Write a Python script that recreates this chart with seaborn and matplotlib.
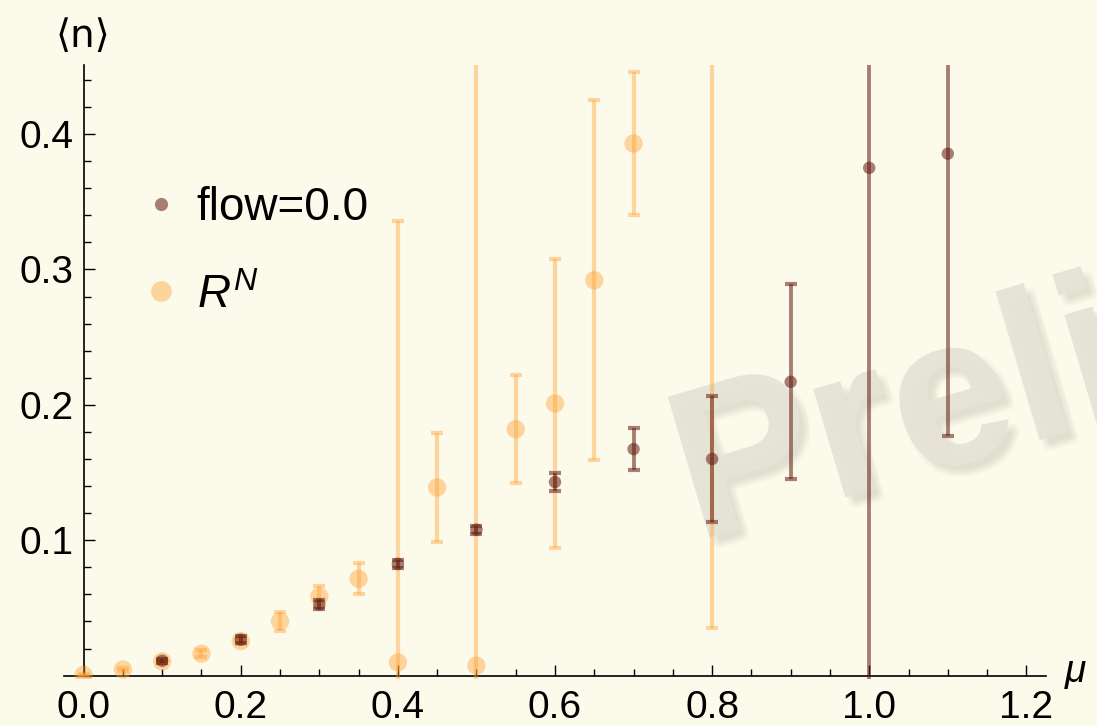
import numpy as np
import pandas as pd
import matplotlib
matplotlib.use("Agg")
import matplotlib.pyplot as plt
from matplotlib.lines import Line2D
from matplotlib.ticker import MultipleLocator, FormatStrFormatter
import seaborn as sns

# ---------------- data ----------------
mu_rn = [0.0, 0.05, 0.1, 0.15, 0.2, 0.25, 0.3, 0.35, 0.4, 0.45, 0.5, 0.55, 0.6, 0.65, 0.7, 0.8]
n_rn = [0.0005, 0.0045, 0.0105, 0.0162, 0.0255, 0.040, 0.0585, 0.0715, 0.0098, 0.139, 0.0074,
        0.182, 0.201, 0.292, 0.393, 0.50]
err_rn = [0.0005, 0.001, 0.0012, 0.0025, 0.002, 0.0072, 0.0075, 0.0115, 0.326, 0.040, 0.50,
          0.040, 0.107, 0.133, 0.053, 0.465]

mu_flow = [0.1, 0.2, 0.3, 0.4, 0.5, 0.6, 0.7, 0.8, 0.9, 1.0, 1.1]
n_flow = [0.011, 0.0265, 0.0525, 0.0825, 0.1078, 0.143, 0.1673, 0.160, 0.217, 0.375, 0.3855]
err_flow = [0.0015, 0.0025, 0.003, 0.003, 0.003, 0.007, 0.0153, 0.0467, 0.072, 0.45, 0.2085]

label_flow = "flow=0.0"
label_rn = r"$R^N$"
x_ticks = [0.0, 0.2, 0.4, 0.6, 0.8, 1.0, 1.2]
y_ticks = [0.1, 0.2, 0.3, 0.4]

# ---------------- style ----------------
bg = "#FCFAEA"
c_flow = "#621A10"
a_flow = 0.55
c_rn = "#FFA032"
a_rn = 0.42

sns.set_theme(style="white")
plt.rcParams["font.family"] = ["Liberation Sans", "DejaVu Sans"]
plt.rcParams["text.color"] = "black"
plt.rcParams["mathtext.fontset"] = "custom"
plt.rcParams["mathtext.it"] = "Liberation Sans:italic"
plt.rcParams["mathtext.rm"] = "Liberation Sans"

W, H = 1097, 726
fig = plt.figure(figsize=(W / 100, H / 100), dpi=100, facecolor=bg)
ax = fig.add_axes([64 / W, 1 - 679 / H, (1046 - 64) / W, (679 - 65) / H])
ax.set_facecolor(bg)

# watermark with a soft shadow
wx, wy = 695 / W, 1 - 538 / H
wm_kw = dict(transform=fig.transFigure, rotation=16.5, rotation_mode="anchor",
             ha="left", va="baseline", fontsize=154, fontweight="bold", clip_on=False)
for dx, dy in [(5, -5), (7, -7), (9, -9), (11, -11), (4, -9), (9, -4), (6, -11), (11, -6)]:
    ax.text(wx + dx / W, wy + dy / H, "Preliminary", color="#9E9C8C", alpha=0.04,
            zorder=0.4, **wm_kw)
ax.text(wx, wy, "Preliminary", color="#E5E4D7", zorder=0.5, **wm_kw)

df_rn = pd.DataFrame({"mu": mu_rn, "n": n_rn, "err": err_rn})
df_flow = pd.DataFrame({"mu": mu_flow, "n": n_flow, "err": err_flow})

# error bars and points
ax.errorbar(df_rn["mu"], df_rn["n"], yerr=df_rn["err"], fmt="none", ecolor=c_rn,
            alpha=a_rn, elinewidth=3.0, capsize=4.5, capthick=3.0, zorder=2)
sns.scatterplot(data=df_rn, x="mu", y="n", ax=ax, color=c_rn, alpha=a_rn, s=175,
                edgecolor="none", linewidth=0, legend=False, zorder=3)

ax.errorbar(df_flow["mu"], df_flow["n"], yerr=df_flow["err"], fmt="none", ecolor=c_flow,
            alpha=a_flow, elinewidth=2.8, capsize=4.5, capthick=3.0, zorder=4)
sns.scatterplot(data=df_flow, x="mu", y="n", ax=ax, color=c_flow, alpha=a_flow, s=80,
                edgecolor="none", linewidth=0, legend=False, zorder=5)

# axes
ax.set_xlim(-0.025, 1.225)
ax.set_ylim(-0.0025, 0.451)
ax.set_xlabel("")
ax.set_ylabel("")
for s in ["top", "right"]:
    ax.spines[s].set_visible(False)
ax.spines["left"].set_position(("data", 0))
ax.spines["bottom"].set_position(("data", 0))
ax.spines["left"].set_bounds(0, 0.451)
for s in ["left", "bottom"]:
    ax.spines[s].set_color("black")
    ax.spines[s].set_linewidth(1.2)
    ax.spines[s].set_zorder(1)

ax.set_xticks(x_ticks)
ax.set_yticks(y_ticks)
ax.xaxis.set_major_formatter(FormatStrFormatter("%.1f"))
ax.yaxis.set_major_formatter(FormatStrFormatter("%.1f"))
ax.xaxis.set_minor_locator(MultipleLocator(0.05))
ax.yaxis.set_minor_locator(MultipleLocator(0.02))
ax.tick_params(which="both", direction="in", color="black", width=1.0,
               bottom=True, left=True, top=False, right=False)
ax.tick_params(which="major", length=8, labelsize=28, labelcolor="black")
ax.tick_params(which="minor", length=5)
ax.tick_params(axis="x", which="major", pad=10)
ax.tick_params(axis="y", which="major", pad=7)

fig.text(83 / W, 1 - 36 / H, "⟨n⟩", ha="center", va="center", fontsize=28,
         family=["DejaVu Sans"], color="black")
fig.text(1075 / W, 1 - 672 / H, "μ", ha="center", va="center", fontsize=28,
         style="italic", color="black")

handles = [
    Line2D([], [], ls="none", marker="o", markersize=9.5, color=c_flow, alpha=a_flow,
           markeredgewidth=0),
    Line2D([], [], ls="none", marker="o", markersize=15, color=c_rn, alpha=a_rn,
           markeredgewidth=0),
]
leg = ax.legend(handles, [label_flow, label_rn], loc="upper left",
                bbox_to_anchor=(138 / W, 1 - 186 / H), bbox_transform=fig.transFigure,
                frameon=False, fontsize=33, handlelength=1.0, handletextpad=0.28,
                labelspacing=0.95, borderpad=0, borderaxespad=0)
for t in leg.get_texts():
    t.set_color("black")

fig.savefig("out.png", dpi=100, facecolor=bg)
